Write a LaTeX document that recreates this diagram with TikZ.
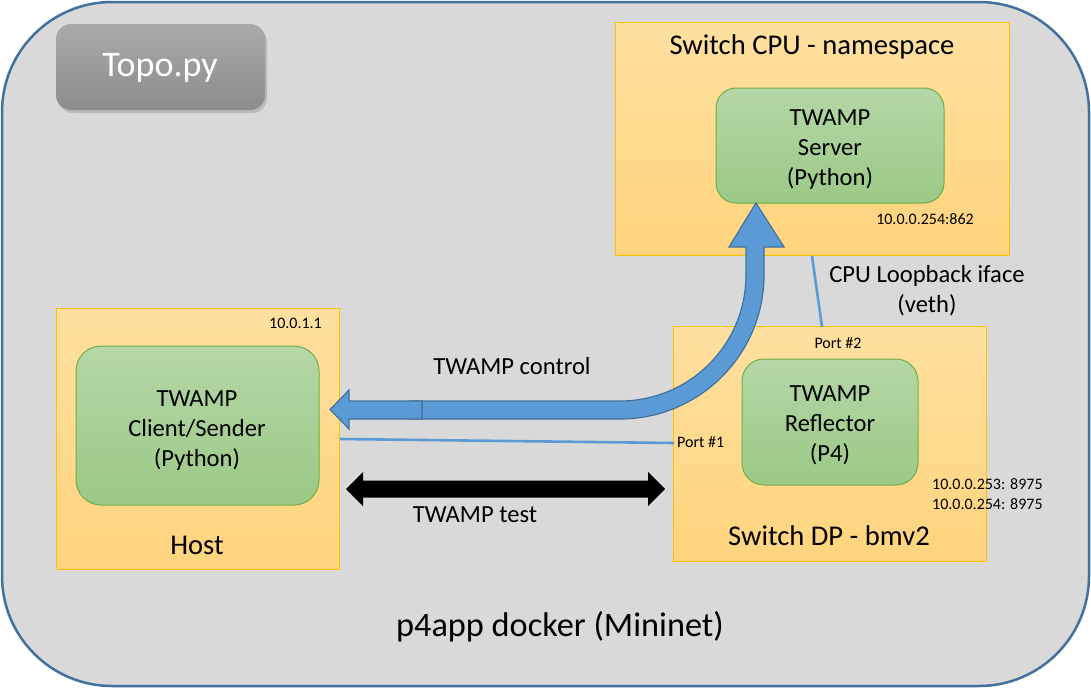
\documentclass[tikz,border=0pt]{standalone}
\usepackage{fontspec}
\setmainfont{Carlito}
\usetikzlibrary{shadows}
\definecolor{bgray}{HTML}{D9D9D9}
\definecolor{frameblue}{HTML}{41719C}
\definecolor{arrowblue}{HTML}{5B9BD5}
\definecolor{otop}{HTML}{FFE09F}
\definecolor{obot}{HTML}{FFD47D}
\definecolor{oedge}{HTML}{FFC000}
\definecolor{gtop}{HTML}{B5D7A6}
\definecolor{gbot}{HTML}{9BC986}
\definecolor{gedge}{HTML}{70AD47}
\definecolor{ttop}{HTML}{AAAAAA}
\definecolor{tbot}{HTML}{8C8C8C}
\tikzset{
  orangebox/.style={draw=oedge, line width=1pt, top color=otop, bottom color=obot, inner sep=0pt},
  greenbox/.style={draw=gedge, line width=1pt, top color=gtop, bottom color=gbot, inner sep=0pt},
  boxtext/.style={font=\fontsize{24.6}{30}\selectfont, align=center, inner sep=0pt},
  titletext/.style={font=\fontsize{28.6}{33}\selectfont, inner sep=0pt},
  smalltext/.style={font=\fontsize{16}{20}\selectfont, inner sep=0pt},
  wire/.style={draw=arrowblue, line width=2.6pt},
  bigarrow/.style={fill=arrowblue, draw=frameblue, line width=1.2pt, line join=miter},
}
\begin{document}
\begin{tikzpicture}[x=1pt,y=-1pt]
\useasboundingbox (0,0) rectangle (1091,688);
% outer frame
\node[draw=frameblue, fill=bgray, line width=2.5pt, rounded corners=110pt,
      minimum width=1087pt, minimum height=684pt, inner sep=0pt] (frame) at (545.5,344) {};
\node[font=\fontsize{34.3}{40}\selectfont, inner sep=0pt] (p4app) at (560,627) {p4app docker (Mininet)};
% Topo.py
\node[draw=none, top color=ttop, bottom color=tbot, rounded corners=15pt,
      minimum width=209pt, minimum height=86pt, inner sep=0pt,
      drop shadow={shadow xshift=2pt, shadow yshift=-3pt, opacity=0.35}] (topo) at (160.5,67) {};
\node[text=white, font=\fontsize{36}{40}\selectfont, inner sep=0pt] (topotext) at (160,68) {Topo.py};
% Switch CPU
\node[orangebox, minimum width=394pt, minimum height=233pt] (cpu) at (812,138.5) {};
\node[titletext] (cputitle) at (812,47) {Switch CPU - namespace};
\node[greenbox, rounded corners=20pt, minimum width=228pt, minimum height=115pt] (server) at (830,145.5) {};
\node[boxtext] (servertext) at (830,150) {TWAMP\\Server\\(Python)};
\node[smalltext] (serverip) at (925,219) {10.0.0.254:862};
% Host
\node[orangebox, minimum width=283pt, minimum height=261pt] (host) at (197.5,438.5) {};
\node[titletext] (hosttitle) at (197,545) {Host};
\node[smalltext, anchor=east] (hostip) at (322,323) {10.0.1.1};
\node[greenbox, rounded corners=25pt, minimum width=243pt, minimum height=159pt] (client) at (197.5,425.5) {};
\node[boxtext] (clienttext) at (197,430.5) {TWAMP\\Client/Sender\\(Python)};
% Switch DP
\node[orangebox, minimum width=313pt, minimum height=235pt] (dp) at (829.5,443.5) {};
\node[titletext] (dptitle) at (829,536) {Switch DP - bmv2};
\node[greenbox, rounded corners=22pt, minimum width=176pt, minimum height=126pt] (refl) at (830,422) {};
\node[boxtext] (refltext) at (830,425.5) {TWAMP\\Reflector\\(P4)};
\node[smalltext] (port2) at (838,343) {Port \#2};
\node[smalltext, anchor=west] (port1) at (677,442) {Port \#1};
\node[smalltext, anchor=west] (ip253) at (932,484) {10.0.0.253: 8975};
\node[smalltext, anchor=west] (ip254) at (932,504) {10.0.0.254: 8975};
% wires
\coordinate (w1a) at (340,439);
\coordinate (w1b) at (674,443);
\draw[wire] (w1a) -- (w1b);
\coordinate (w2a) at (812,256);
\coordinate (w2b) at (822,327);
\draw[wire] (w2a) -- (w2b);
\node[boxtext] (loop) at (927,291) {CPU Loopback iface\\(veth)};
% big blue arrow
\draw[bigarrow] (410,401) -- (620,401) .. controls (689.6,401) and (746,344.6) .. (746,275)
  -- (746,247) -- (729,247) -- (756,203) -- (784,247) -- (764,247) -- (764,275)
  .. controls (764,354.5) and (699.5,419) .. (620,419) -- (410,419) -- cycle;
\draw[bigarrow] (422,401) -- (349,401) -- (349,390) -- (330,409.5) -- (349,429) -- (349,419) -- (422,419) -- cycle;
\node[boxtext] (ctrl) at (512,366) {TWAMP control};
% black double arrow
\fill[black] (346,489) -- (363,472) -- (363,480.5) -- (648,480.5) -- (648,472) -- (665,489)
  -- (648,506) -- (648,497.5) -- (363,497.5) -- (363,506) -- cycle;
\node[boxtext] (test) at (475,515) {TWAMP test};
\end{tikzpicture}
\end{document}
